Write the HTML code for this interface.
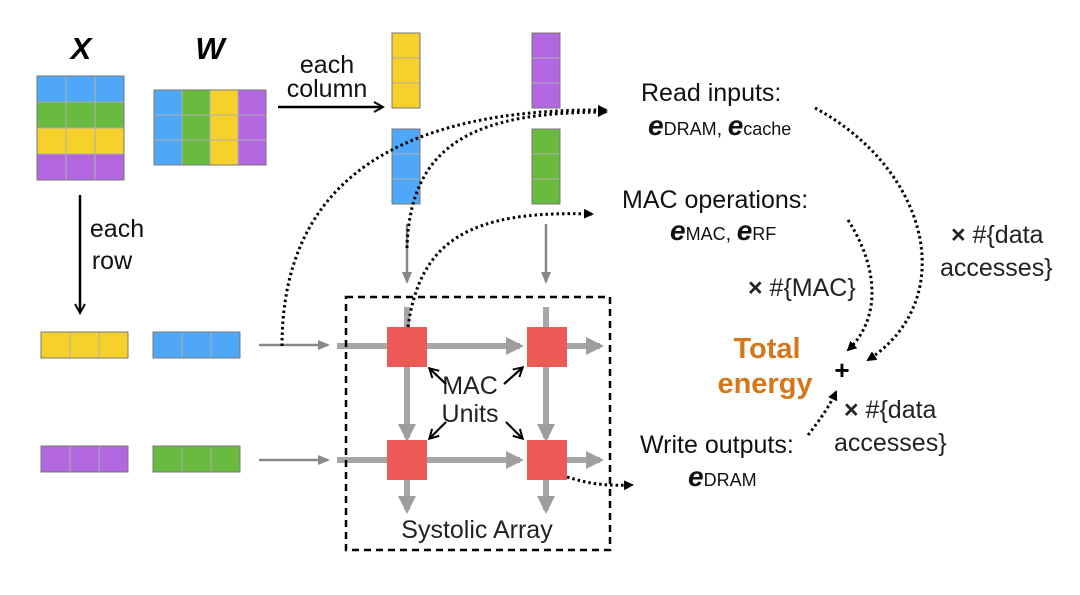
<!DOCTYPE html>
<html><head><meta charset="utf-8"><style>
html,body{margin:0;padding:0;background:#fff;}
svg{display:block;font-family:"Liberation Sans",sans-serif;}
</style></head><body>
<svg width="1080" height="595" viewBox="0 0 1080 595" xmlns="http://www.w3.org/2000/svg">
<defs>
<marker id="ab" markerWidth="10" markerHeight="10" refX="8" refY="5" orient="auto" markerUnits="userSpaceOnUse"><path d="M0,0 L10,5 L0,10 z" fill="#000"/></marker>
<marker id="ag" markerWidth="12" markerHeight="12" refX="10" refY="6" orient="auto" markerUnits="userSpaceOnUse"><path d="M0,1 L12,6 L0,11 z" fill="#888"/></marker>
<marker id="aG" markerWidth="20" markerHeight="20" refX="14" refY="10" orient="auto" markerUnits="userSpaceOnUse"><path d="M0,1 L18,10 L0,19 z" fill="#9e9e9e"/></marker>
<marker id="ao" markerWidth="12" markerHeight="12" refX="9" refY="6" orient="auto" markerUnits="userSpaceOnUse"><path d="M1,1 L10,6 L1,11" fill="none" stroke="#000" stroke-width="2"/></marker>
</defs>
<g stroke="#b0b0b0" stroke-width="1">
<rect x="37" y="76" width="87" height="26" fill="#4ea8f7"/>
<rect x="37" y="102" width="87" height="26" fill="#68bb3e"/>
<rect x="37" y="128" width="87" height="26" fill="#f6d02b"/>
<rect x="37" y="154" width="87" height="26" fill="#b266e0"/>
<line x1="66" y1="76" x2="66" y2="180"/><line x1="95" y1="76" x2="95" y2="180"/>
<rect x="154" y="90" width="28" height="75" fill="#4ea8f7"/>
<rect x="182" y="90" width="28" height="75" fill="#68bb3e"/>
<rect x="210" y="90" width="28" height="75" fill="#f6d02b"/>
<rect x="238" y="90" width="28" height="75" fill="#b266e0"/>
<line x1="154" y1="115" x2="266" y2="115"/><line x1="154" y1="140" x2="266" y2="140"/>
<rect x="392" y="33" width="28" height="75" fill="#f6d02b"/><line x1="392" y1="58" x2="420" y2="58"/><line x1="392" y1="83" x2="420" y2="83"/>
<rect x="532" y="33" width="28" height="75" fill="#b266e0"/><line x1="532" y1="58" x2="560" y2="58"/><line x1="532" y1="83" x2="560" y2="83"/>
<rect x="392" y="129" width="28" height="75" fill="#4ea8f7"/><line x1="392" y1="154" x2="420" y2="154"/><line x1="392" y1="179" x2="420" y2="179"/>
<rect x="532" y="129" width="28" height="75" fill="#68bb3e"/><line x1="532" y1="154" x2="560" y2="154"/><line x1="532" y1="179" x2="560" y2="179"/>
<rect x="41" y="332" width="87" height="26" fill="#f6d02b"/><line x1="70" y1="332" x2="70" y2="358"/><line x1="99" y1="332" x2="99" y2="358"/>
<rect x="153" y="332" width="87" height="26" fill="#4ea8f7"/><line x1="182" y1="332" x2="182" y2="358"/><line x1="211" y1="332" x2="211" y2="358"/>
<rect x="41" y="446" width="87" height="26" fill="#b266e0"/><line x1="70" y1="446" x2="70" y2="472"/><line x1="99" y1="446" x2="99" y2="472"/>
<rect x="153" y="446" width="87" height="26" fill="#68bb3e"/><line x1="182" y1="446" x2="182" y2="472"/><line x1="211" y1="446" x2="211" y2="472"/>
</g>
<g stroke="#777" fill="none">
<rect x="37" y="76" width="87" height="104"/><rect x="154" y="90" width="112" height="75"/>
<rect x="392" y="33" width="28" height="75"/><rect x="532" y="33" width="28" height="75"/>
<rect x="392" y="129" width="28" height="75"/><rect x="532" y="129" width="28" height="75"/>
<rect x="41" y="332" width="87" height="26"/><rect x="153" y="332" width="87" height="26"/>
<rect x="41" y="446" width="87" height="26"/><rect x="153" y="446" width="87" height="26"/>
</g>
<g font-weight="bold" font-style="italic" font-size="31" text-anchor="middle"><text x="81" y="59">X</text><text x="210" y="59">W</text></g>
<g font-size="25" fill="#111" text-anchor="middle">
<text x="327" y="73">each</text><text x="327" y="97">column</text>
<text x="117" y="237">each</text><text x="112" y="269">row</text>
</g>
<line x1="278" y1="107" x2="382" y2="107" stroke="#000" stroke-width="2.5" marker-end="url(#ao)"/>
<line x1="80" y1="195" x2="80" y2="312" stroke="#000" stroke-width="2.5" marker-end="url(#ao)"/>
<g stroke="#888" stroke-width="2.5">
<line x1="407" y1="224" x2="407" y2="282" marker-end="url(#ag)"/>
<line x1="546" y1="224" x2="546" y2="282" marker-end="url(#ag)"/>
<line x1="259" y1="345" x2="328" y2="345" marker-end="url(#ag)"/>
<line x1="259" y1="460" x2="328" y2="460" marker-end="url(#ag)"/>
</g>
<g stroke="#a6a6a6" stroke-width="6">
<line x1="337" y1="346" x2="520" y2="346" marker-end="url(#aG)"/>
<line x1="567" y1="346" x2="600" y2="346" marker-end="url(#aG)"/>
<line x1="337" y1="460" x2="520" y2="460" marker-end="url(#aG)"/>
<line x1="567" y1="460" x2="600" y2="460" marker-end="url(#aG)"/>
<line x1="407" y1="307" x2="407" y2="327"/><line x1="546" y1="307" x2="546" y2="327"/>
<line x1="407" y1="367" x2="407" y2="438" marker-end="url(#aG)"/>
<line x1="546" y1="367" x2="546" y2="438" marker-end="url(#aG)"/>
<line x1="407" y1="480" x2="407" y2="510" marker-end="url(#aG)"/>
<line x1="546" y1="480" x2="546" y2="510" marker-end="url(#aG)"/>
</g>
<g fill="#ec5a55">
<rect x="387" y="327" width="40" height="40"/><rect x="527" y="327" width="40" height="40"/>
<rect x="387" y="440" width="40" height="40"/><rect x="527" y="440" width="40" height="40"/>
</g>
<rect x="346" y="297" width="264" height="253" fill="none" stroke="#000" stroke-width="2.5" stroke-dasharray="7,5"/>
<g font-size="25" fill="#222" text-anchor="middle">
<text x="470" y="394">MAC</text><text x="470" y="422">Units</text>
<text x="477" y="538">Systolic Array</text>
</g>
<g stroke="#000" stroke-width="2.2">
<line x1="446" y1="384" x2="430" y2="369" marker-end="url(#ao)"/>
<line x1="504" y1="384" x2="522" y2="368" marker-end="url(#ao)"/>
<line x1="446" y1="422" x2="430" y2="438" marker-end="url(#ao)"/>
<line x1="506" y1="422" x2="522" y2="438" marker-end="url(#ao)"/>
</g>
<g fill="none" stroke="#000" stroke-width="3" stroke-dasharray="2.5,3">
<path d="M282,346 C282,180 400,108 606,110" marker-end="url(#ab)"/>
<path d="M407,248 C410,140 480,112 606,112" marker-end="url(#ab)"/>
<path d="M408,327 C420,240 470,210 592,214" marker-end="url(#ab)"/>
<path d="M567,477 C590,484 605,486 632,485" marker-end="url(#ab)"/>
<path d="M815,108 C930,170 960,300 868,360" marker-end="url(#ab)"/>
<path d="M848,220 C880,270 880,320 848,350" marker-end="url(#ab)"/>
<path d="M808,435 C820,420 830,405 836,392" marker-end="url(#ab)"/>
</g>
<g font-size="25" fill="#111">
<text x="641" y="101">Read inputs:</text>
<text x="622" y="208">MAC operations:</text>
<text x="640" y="453">Write outputs:</text>
</g>
<g font-size="28" font-weight="bold" font-style="italic" fill="#111">
<text x="648" y="135">e<tspan font-size="18" font-weight="normal" font-style="normal">DRAM</tspan><tspan font-size="20" font-weight="normal" font-style="normal">, </tspan>e<tspan font-size="18" font-weight="normal" font-style="normal">cache</tspan></text>
<text x="670" y="240">e<tspan font-size="18" font-weight="normal" font-style="normal">MAC</tspan><tspan font-size="20" font-weight="normal" font-style="normal">, </tspan>e<tspan font-size="18" font-weight="normal" font-style="normal">RF</tspan></text>
<text x="688" y="486">e<tspan font-size="18" font-weight="normal" font-style="normal">DRAM</tspan></text>
</g>
<g font-size="25" fill="#222">
<text x="748" y="296"><tspan font-weight="bold">×</tspan> #{MAC}</text>
<text x="951" y="243"><tspan font-weight="bold">×</tspan> #{data</text>
<text x="940" y="276">accesses}</text>
<text x="844" y="418"><tspan font-weight="bold">×</tspan> #{data</text>
<text x="834" y="451">accesses}</text>
</g>
<text x="842" y="379" font-size="26" font-weight="bold" text-anchor="middle">+</text>
<g font-size="29" font-weight="bold" fill="#d4761a" text-anchor="middle">
<text x="767" y="358">Total</text><text x="765" y="393">energy</text>
</g>
</svg>
</body></html>
